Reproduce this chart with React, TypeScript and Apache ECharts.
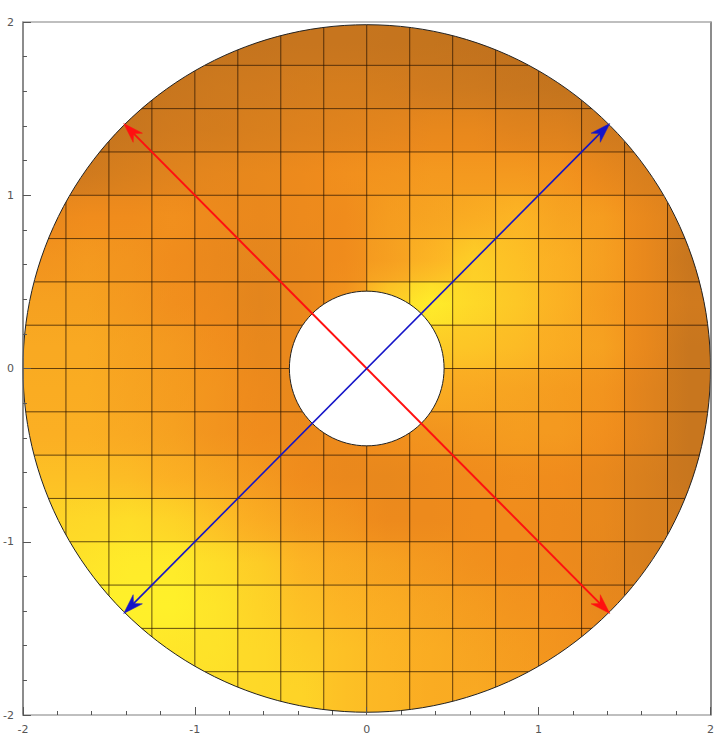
import React, { useEffect, useRef } from "react";
import * as echarts from "echarts";

// cell centres along x (left -> right) and y (top -> bottom), cell size 0.25
const cellCentersX = [-1.875, -1.625, -1.375, -1.125, -0.875, -0.625, -0.375, -0.125, 0.125, 0.375, 0.625, 0.875, 1.125, 1.375, 1.625, 1.875];
const cellCentersY = [1.875, 1.625, 1.375, 1.125, 0.875, 0.625, 0.375, 0.125, -0.125, -0.375, -0.625, -0.875, -1.125, -1.375, -1.625, -1.875];
const cellHalf = 0.125;

// shade: 0 = dark brown, 10 = bright yellow (rows top -> bottom)
const shadeRow0 = [1.5, 1.5, 1.5, 2, 2.2, 2.3, 2.4, 2.4, 2.3, 2.2, 2, 1.8, 1.5, 1.5, 1.5, 1.5];
const shadeRow1 = [1.5, 1.5, 2, 2.5, 2.8, 3, 3.2, 3.3, 3.2, 3, 2.8, 2.5, 2.2, 2, 1.5, 1.5];
const shadeRow2 = [1.5, 2, 2.5, 3, 3.2, 3.5, 3.8, 4, 4.2, 4.5, 4.5, 4, 3.8, 3, 2.5, 2];
const shadeRow3 = [2.5, 3, 3.5, 4, 4.3, 4.5, 4.8, 5.2, 5.5, 5.8, 5.8, 5.8, 5.5, 4.5, 3.5, 3];
const shadeRow4 = [4.5, 5, 5, 5.2, 4.8, 4.6, 4.8, 5, 6, 6.5, 7, 7.5, 6.5, 6, 4.5, 3];
const shadeRow5 = [5.5, 5.8, 5.5, 5, 4.6, 4.3, 4.6, 5, 6.2, 7.5, 8.6, 8, 7.2, 6.2, 4.5, 2.5];
const shadeRow6 = [6.3, 6.3, 5.8, 5.2, 4.8, 4.2, 4.6, 5.5, 8.5, 9.8, 9, 8.3, 7.3, 6, 4.5, 3];
const shadeRow7 = [6.8, 6.8, 6.3, 5.8, 5.2, 4.5, 4.6, 5, 7, 8.5, 8.2, 7.8, 7, 6.3, 4.5, 2.5];
const shadeRow8 = [7, 7, 6.5, 6, 5.5, 4.8, 4.5, 5, 6.5, 7, 6.8, 6.5, 6, 5.5, 4, 2.5];
const shadeRow9 = [7.2, 7.2, 6.8, 6.3, 5.5, 5, 4.7, 4.8, 5.2, 5.5, 5.8, 6, 5.8, 5.2, 4, 2.5];
const shadeRow10 = [8, 8, 7.8, 7.2, 6.5, 5.8, 5, 4.6, 4.5, 4.8, 5, 5.2, 5, 4.5, 3.5, 2.5];
const shadeRow11 = [8.8, 9, 9.2, 8.8, 8, 7, 6, 5.5, 4.8, 4.8, 5, 5, 4.8, 4.5, 3.5, 3];
const shadeRow12 = [9, 9.5, 9.8, 9.8, 9.2, 8.5, 7.5, 6.8, 6.3, 5.8, 5.3, 5, 4.8, 4.3, 3.5, 3];
const shadeRow13 = [9.5, 10, 10, 10, 9.5, 8.8, 8, 7.5, 7, 6.5, 6, 5.5, 5.2, 4.5, 4, 3.5];
const shadeRow14 = [9.5, 9.8, 9.8, 9.6, 9.4, 9, 8.5, 8, 7.5, 7, 6.5, 6, 5.5, 5, 4.5, 4];
const shadeRow15 = [9.5, 9.5, 9.5, 9.5, 9.2, 9, 8.8, 8, 7.6, 7, 6.8, 6.3, 6, 5.5, 5, 4.5];
const shadeRows = [shadeRow0, shadeRow1, shadeRow2, shadeRow3, shadeRow4, shadeRow5, shadeRow6, shadeRow7, shadeRow8, shadeRow9, shadeRow10, shadeRow11, shadeRow12, shadeRow13, shadeRow14, shadeRow15];

// colour scale for shade 0, 2.5, 5, 7.5, 10
const palette = ["#a86218", "#c8761e", "#f08c1c", "#fcb424", "#fff02a"];
const shadeMin = 0;
const shadeMax = 10;

const gridLineValues = [-1.75, -1.5, -1.25, -1, -0.75, -0.5, -0.25, 0, 0.25, 0.5, 0.75, 1, 1.25, 1.5, 1.75];
const outerRadius = 2;
const innerRadius = 0.45;
const redArrow = [-1.414, 1.414, 1.414, -1.414];
const blueArrow = [-1.414, -1.414, 1.414, 1.414];
const axisMin = -2;
const axisMax = 2;

function hexToRgb(h: string) {
  return [parseInt(h.slice(1, 3), 16), parseInt(h.slice(3, 5), 16), parseInt(h.slice(5, 7), 16)];
}
const paletteRgb = palette.map(hexToRgb);
function shadeColor(v: number) {
  const t = Math.max(0, Math.min(1, (v - shadeMin) / (shadeMax - shadeMin))) * (paletteRgb.length - 1);
  const i = Math.min(paletteRgb.length - 2, Math.floor(t));
  const f = t - i;
  const a = paletteRgb[i];
  const b = paletteRgb[i + 1];
  const c = a.map((x, k) => Math.round(x + (b[k] - x) * f));
  return `rgb(${c[0]},${c[1]},${c[2]})`;
}

function arrowItem(coords: number[], color: string, width: number) {
  return (params: any, api: any) => {
    const p1 = api.coord([coords[0], coords[1]]);
    const p2 = api.coord([coords[2], coords[3]]);
    const dx = p2[0] - p1[0];
    const dy = p2[1] - p1[1];
    const len = Math.sqrt(dx * dx + dy * dy);
    const ux = dx / len;
    const uy = dy / len;
    const nx = -uy;
    const ny = ux;
    const L = 20;
    const W = 6.5;
    const N = 6;
    const head = (tx: number, ty: number, sx: number, sy: number) => ({
      type: "polygon",
      shape: {
        points: [
          [tx, ty],
          [tx - L * sx + W * nx, ty - L * sy + W * ny],
          [tx - (L - N) * sx, ty - (L - N) * sy],
          [tx - L * sx - W * nx, ty - L * sy - W * ny],
        ],
      },
      style: { fill: color, stroke: color, lineWidth: 0.5 },
    });
    return {
      type: "group",
      children: [
        { type: "line", shape: { x1: p1[0] + ux * 10, y1: p1[1] + uy * 10, x2: p2[0] - ux * 10, y2: p2[1] - uy * 10 }, style: { stroke: color, lineWidth: width } },
        head(p2[0], p2[1], ux, uy),
        head(p1[0], p1[1], -ux, -uy),
      ],
    };
  };
}

export default function App() {
  const ref = useRef<HTMLDivElement>(null);
  useEffect(() => {
    if (!ref.current) return;
    const chart = echarts.init(ref.current, undefined, { renderer: "svg" });

    const cellData: number[][] = [];
    shadeRows.forEach((row, j) => {
      row.forEach((v, i) => {
        cellData.push([cellCentersX[i], cellCentersY[j], v, i, j]);
      });
    });
    const nb = (i: number, j: number, v: number) => {
      if (j < 0 || j >= shadeRows.length) return v;
      const r = shadeRows[j];
      if (i < 0 || i >= r.length) return v;
      return r[i];
    };

    const labelFmt = (v: number) => String(v);

    const baseAxis = {
      type: "value",
      min: axisMin,
      max: axisMax,
      interval: 1,
      z: 10,
      splitLine: { show: false },
      minorSplitLine: { show: false },
      axisTick: { show: true, inside: true, length: 8, lineStyle: { color: "#555", width: 1 } },
      minorTick: { show: true, splitNumber: 5, length: 4, lineStyle: { color: "#555", width: 1 } },
      axisLabel: { color: "#555", fontSize: 11, fontFamily: "DejaVu Sans", margin: 9, formatter: labelFmt, showMinLabel: true, showMaxLabel: true },
    };

    chart.setOption({
      animation: false,
      backgroundColor: "#ffffff",
      grid: { left: 21, right: 4, top: 22, bottom: 38 },
      xAxis: [
        { ...baseAxis, position: "bottom", axisLine: { show: true, onZero: false, lineStyle: { color: "#aaaaaa", width: 1.5 } } },
        { type: "value", min: axisMin, max: axisMax, position: "top", z: 10, axisLine: { show: true, onZero: false, lineStyle: { color: "#aaaaaa", width: 1.5 } }, axisTick: { show: false }, axisLabel: { show: false }, splitLine: { show: false } },
      ],
      yAxis: [
        { ...baseAxis, position: "left", axisLine: { show: true, onZero: false, lineStyle: { color: "#666666", width: 1.5 } } },
        { type: "value", min: axisMin, max: axisMax, position: "right", z: 10, axisLine: { show: true, onZero: false, lineStyle: { color: "#666666", width: 1.5 } }, axisTick: { show: false }, axisLabel: { show: false }, splitLine: { show: false } },
      ],
      series: [
        {
          type: "custom",
          z: 1,
          clip: true,
          data: cellData,
          renderItem: (params: any, api: any) => {
            const x = api.value(0);
            const y = api.value(1);
            const v = api.value(2);
            const i = api.value(3);
            const j = api.value(4);
            const p1 = api.coord([x - cellHalf, y + cellHalf]);
            const p2 = api.coord([x + cellHalf, y - cellHalf]);
            const shape = { x: p1[0] - 0.5, y: p1[1] - 0.5, width: p2[0] - p1[0] + 1, height: p2[1] - p1[1] + 1 };
            const cL = shadeColor((v + nb(i - 1, j, v)) / 2);
            const cR = shadeColor((v + nb(i + 1, j, v)) / 2);
            const cU = shadeColor((v + nb(i, j - 1, v)) / 2);
            const cD = shadeColor((v + nb(i, j + 1, v)) / 2);
            const cM = shadeColor(v);
            return {
              type: "group",
              children: [
                {
                  type: "rect",
                  shape,
                  style: {
                    fill: { type: "linear", x: 0, y: 0, x2: 1, y2: 0, colorStops: [{ offset: 0, color: cL }, { offset: 0.5, color: cM }, { offset: 1, color: cR }] },
                  },
                },
                {
                  type: "rect",
                  shape,
                  style: {
                    opacity: 0.5,
                    fill: { type: "linear", x: 0, y: 0, x2: 0, y2: 1, colorStops: [{ offset: 0, color: cU }, { offset: 0.5, color: cM }, { offset: 1, color: cD }] },
                  },
                },
              ],
            };
          },
        },
        {
          type: "custom",
          z: 2,
          clip: true,
          data: gridLineValues.map((v) => [v]),
          renderItem: (params: any, api: any) => {
            const v = api.value(0);
            const a = api.coord([v, axisMin]);
            const b = api.coord([v, axisMax]);
            const c = api.coord([axisMin, v]);
            const d = api.coord([axisMax, v]);
            const st = { stroke: "rgba(40,20,0,0.72)", lineWidth: 1 };
            return {
              type: "group",
              children: [
                { type: "line", shape: { x1: a[0], y1: a[1], x2: b[0], y2: b[1] }, style: st },
                { type: "line", shape: { x1: c[0], y1: c[1], x2: d[0], y2: d[1] }, style: st },
              ],
            };
          },
        },
        {
          type: "custom",
          z: 3,
          clip: true,
          data: [[0, 0]],
          renderItem: (params: any, api: any) => {
            const c = api.coord([0, 0]);
            const e = api.coord([outerRadius, 0]);
            const ei = api.coord([innerRadius, 0]);
            const r = e[0] - c[0];
            const ri = ei[0] - c[0];
            const w = 400;
            return {
              type: "group",
              children: [
                { type: "circle", shape: { cx: c[0], cy: c[1], r: r + w / 2 }, style: { fill: "none", stroke: "#ffffff", lineWidth: w } },
                { type: "circle", shape: { cx: c[0], cy: c[1], r: r }, style: { fill: "none", stroke: "#222222", lineWidth: 1 } },
                { type: "circle", shape: { cx: c[0], cy: c[1], r: ri }, style: { fill: "#ffffff", stroke: "#222222", lineWidth: 1 } },
              ],
            };
          },
        },
        {
          type: "custom",
          z: 5,
          clip: false,
          data: [redArrow],
          renderItem: arrowItem(redArrow, "#ff1010", 2),
        },
        {
          type: "custom",
          z: 5,
          clip: false,
          data: [blueArrow],
          renderItem: arrowItem(blueArrow, "#1414c8", 1.6),
        },
      ],
    });
    return () => chart.dispose();
  }, []);
  return <div ref={ref} style={{ position: "absolute", left: 0, top: 0, width: 717, height: 753 }} />;
}
